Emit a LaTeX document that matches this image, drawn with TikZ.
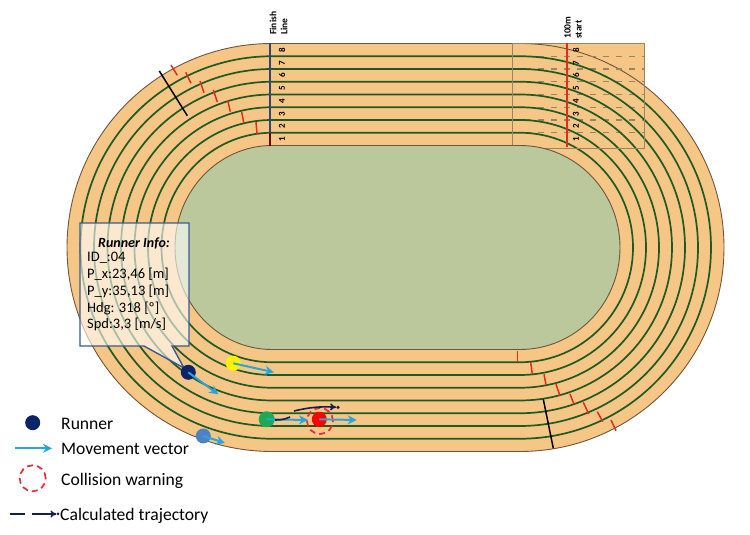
\documentclass[tikz,border=0pt]{standalone}
\usepackage{fontspec}
\setmainfont{Carlito}
\usetikzlibrary{arrows.meta}
\definecolor{TrackOrange}{RGB}{246,198,134}
\definecolor{FieldGreen}{RGB}{186,200,155}
\definecolor{LaneGreen}{RGB}{30,90,35}
\definecolor{EdgeBrown}{RGB}{110,85,60}
\definecolor{MarkRed}{RGB}{225,45,30}
\definecolor{VectorBlue}{RGB}{40,165,220}
\definecolor{InfoBlue}{RGB}{60,90,140}
\definecolor{RunnerNavy}{RGB}{10,35,105}
\definecolor{RunnerBlue}{RGB}{80,130,195}
\definecolor{RunnerGreen}{RGB}{30,170,85}
\definecolor{TrajNavy}{RGB}{20,30,85}
\definecolor{WarnRed}{RGB}{225,45,60}
\definecolor{DashGrey}{RGB}{150,135,100}
% one closed lane outline, #1 = lane number from the field outwards
\newcommand{\lanepath}[1]{
    (272,{287.5+102+12.75*#1}) arc[start angle=90,end angle=270,x radius={97+13.5*#1},y radius={102+12.75*#1}]
    -- (520,{287.5-102-12.75*#1}) arc[start angle=-90,end angle=90,x radius={100+13*#1},y radius={102+12.75*#1}] -- cycle
}
\newcommand{\drawmark}{\draw[MarkRed,line width=1.5pt]}
\newcommand{\drawvector}{\draw[VectorBlue,line width=2pt,-{Stealth[length=9pt,width=9pt]}]}
\tikzset{
    runner/.style={circle,minimum size=#1,inner sep=0pt},
    warning/.style={circle,draw=WarnRed,dash pattern=on 6pt off 4pt,line width=1.7pt,minimum size=26pt,inner sep=0pt},
    legendtext/.style={anchor=west,inner sep=0pt,font=\fontsize{17.6}{19}\selectfont},
    laneno/.style={rotate=90,inner sep=0pt,font=\fontsize{9}{9}\selectfont\bfseries},
    linelabel/.style={rotate=90,anchor=west,align=left,inner sep=0pt,font=\fontsize{9.5}{11}\selectfont\bfseries},
    trajectory/.style={TrajNavy,line width=1.6pt}
}
\begin{document}
\begin{tikzpicture}[x=1pt,y=1pt]
\useasboundingbox (0,0) rectangle (750,535);
% track
\fill[TrackOrange] (512,387) rectangle (644,492);
\fill[TrackOrange] \lanepath{8};
\draw[EdgeBrown,line width=.9pt] \lanepath{8};
\foreach \i in {1,...,7}{
    \draw[DashGrey,dash pattern=on 6pt off 7pt,line width=1.1pt] (512,{389.5+12.75*\i})--(644,{389.5+12.75*\i});
    \draw[LaneGreen,line width=1.7pt] \lanepath{\i};
}
\draw[DashGrey,line width=.9pt] (512,387) rectangle (644,492);
\fill[FieldGreen] \lanepath{0};
\draw[EdgeBrown,line width=.9pt] \lanepath{0};
% finish line and 100m start
\draw[InfoBlue!80!black,line width=1.3pt] (270,492)--(270,389);
\draw[red!45!black,line width=2.4pt] (270,402)--(270,389);
\drawmark[line width=1.9pt] (567,492)--(567,388);
\foreach \i in {1,...,8}{
    \node[laneno] (finish\i) at (282,{383+12.75*\i}) {\i};
    \node[laneno] (start\i) at (576,{383+12.75*\i}) {\i};
}
\node[linelabel] (finishlabel) at (278.5,500) {Finish\\Line};
\node[linelabel] (startlabel) at (573,496) {100m\\start};
% stagger marks
\foreach \xa/\ya/\xb/\yb in {256/413/257/401,241.7/423.3/243.7/412.3,227.7/435/230.3/423.3,213.3/445/217.3/433,200/454/204/442.3,185.7/462.7/191/451.7,171/470/177.3/459.7,517.3/184/517.3/173,530.7/172.7/532.3/161,544/160.7/546/150.3,556/150.7/560/139,570/141/574/130.7,583.3/132.7/588.7/121,597.3/123.3/602.7/113.3,611/115/616/104.3}{
    \drawmark (\xa,\ya)--(\xb,\yb);
}
\draw[black,line width=1.5pt] (159.3,464)--(187.3,419.3);
\draw[black,line width=1.5pt] (543.3,135.7)--(553.3,86.7);
% runner info
\filldraw[draw=InfoBlue,line width=1.4pt,fill=white,fill opacity=.6] (80,312)--(189,312)--(189,189)--(172,189)--(184,167)--(144,189)--(80,189)--cycle;
\node[inner sep=0pt,font=\fontsize{14}{16}\selectfont\bfseries\itshape] (infotitle) at (134,292) {Runner Info:};
\node[anchor=north west,align=left,inner sep=0pt,font=\fontsize{14.5}{16.8}\selectfont] (infotext) at (87,283) {ID\_:04\\P\_x:23,46 [m]\\P\_y:35,13 [m]\\Hdg: 318 [º]\\Spd:3,3 [m/s]};
% runners
\node[runner=15pt,fill=RunnerNavy] (runnerinfo) at (188.3,162.7) {};
\node[runner=15pt,fill=yellow] (runneryellow) at (233.3,171.7) {};
\node[runner=16pt,fill=RunnerGreen] (runnergreen) at (266.7,115.7) {};
\node[runner=15pt,fill=red] (runnerred) at (319.3,115.7) {};
\node[runner=15pt,fill=RunnerBlue] (runnerblue) at (203.3,99) {};
\node[warning] (collision) at (320,114) {};
\coordinate (tipinfo) at (218.3,140.7);
\coordinate (tipyellow) at (274,162.7);
\coordinate (tipgreen) at (308,115);
\coordinate (tipred) at (356.7,115);
\coordinate (tipblue) at (225,92);
\drawvector (runnerinfo.center)--(tipinfo);
\drawvector (runneryellow.center)--(tipyellow);
\drawvector (runnergreen.center)--(tipgreen);
\drawvector (runnerred.center)--(tipred);
\drawvector (runnerblue.center)--(tipblue);
% calculated trajectory
\coordinate (trajstart) at (275,115);
\coordinate (trajgap) at (290,118);
\coordinate (trajcont) at (294,124);
\node[runner=3.5pt,fill=TrajNavy] (trajdot) at (338,127.7) {};
\draw[trajectory] (trajstart) to[bend right=12] (trajgap);
\draw[trajectory,-{>[length=6pt,width=7pt]}] (trajcont) to[bend left=8] (trajdot);
% legend
\node[runner=15pt,fill=RunnerNavy] (legrunner) at (32.7,112.3) {};
\node[legendtext] (legrunnertext) at (61,111) {Runner};
\coordinate (legvectora) at (15,86.7);
\coordinate (legvectorb) at (52,86.7);
\drawvector (legvectora)--(legvectorb);
\node[legendtext] (legvectortext) at (61,86) {Movement vector};
\node[warning] (legwarning) at (32.7,56.7) {};
\node[legendtext] (legwarningtext) at (61,54.5) {Collision warning};
\coordinate (legtraja) at (10,21);
\coordinate (legtrajb) at (25,21);
\coordinate (legtrajc) at (32,21);
\node[runner=3pt,fill=TrajNavy] (legtrajdot) at (58,21) {};
\draw[trajectory] (legtraja)--(legtrajb);
\draw[trajectory,-{>[length=6pt,width=7pt]}] (legtrajc)--(legtrajdot);
\node[legendtext] (legtrajtext) at (60,19.5) {Calculated trajectory};
\end{tikzpicture}
\end{document}
